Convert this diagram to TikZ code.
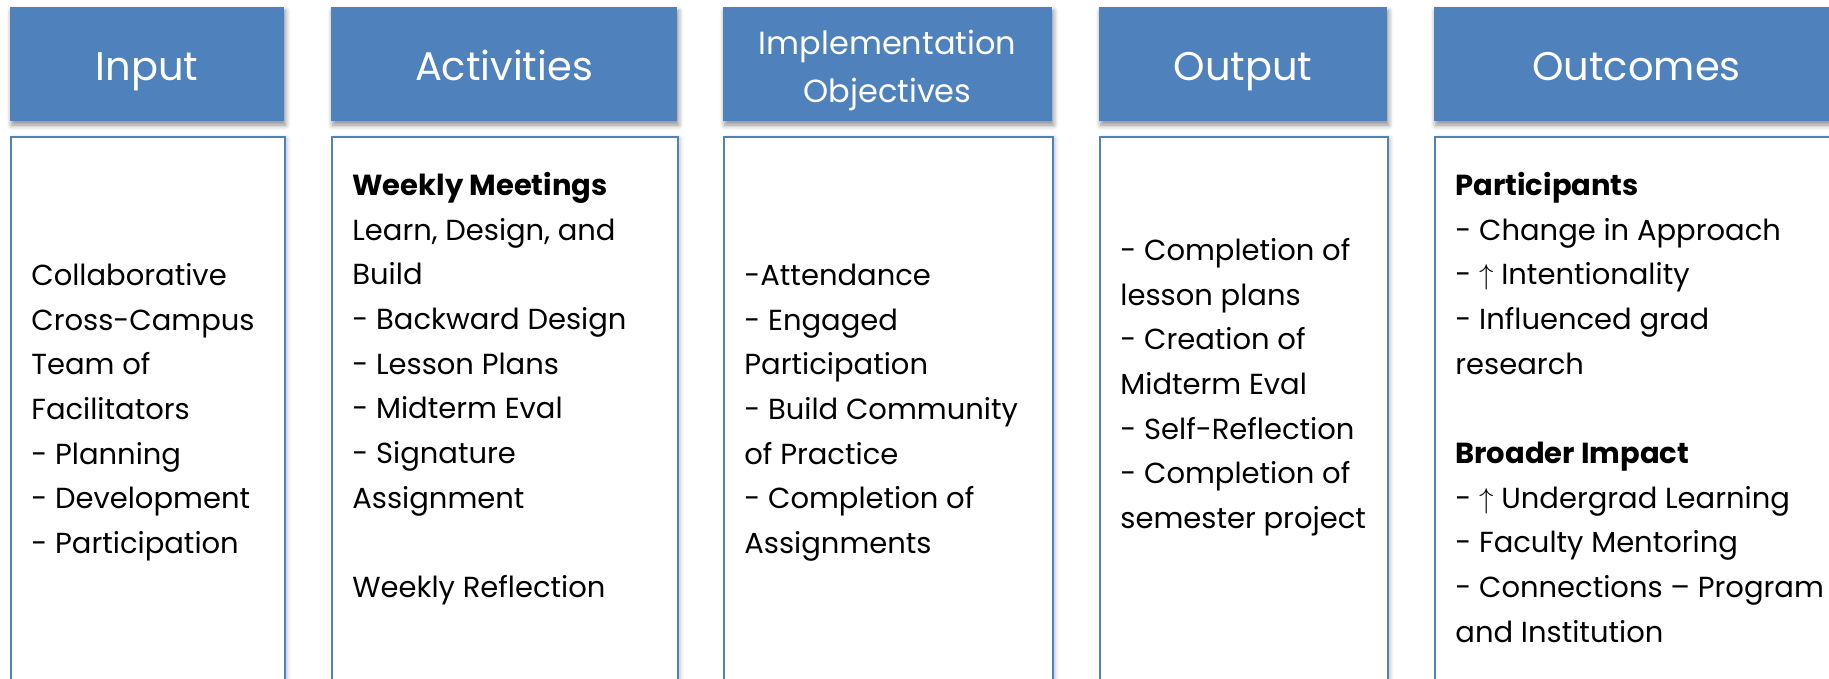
\documentclass[tikz,border=0pt]{standalone}
\usepackage{fontspec}
\setmainfont{Poppins}
\usetikzlibrary{shadows.blur}
\definecolor{headBlue}{RGB}{79,129,189}

\tikzset{
  head/.style={fill=headBlue, text=white, minimum height=57pt, inner sep=0pt,
    align=center, font=\fontsize{20pt}{24pt}\selectfont,
    text height=17pt, text depth=0pt,
    blur shadow={shadow xshift=0.8pt, shadow yshift=-2pt,
      shadow blur radius=2.5pt, shadow opacity=45}},
  headtext/.style={text=white, inner sep=0pt, align=center,
    font=\fontsize{16pt}{24pt}\selectfont},
  body/.style={draw=headBlue, line width=1pt, fill=white, inner sep=0pt,
    anchor=north west, minimum height=300pt,
    blur shadow={shadow xshift=1pt, shadow yshift=-0.5pt,
      shadow blur radius=2pt, shadow opacity=25}},
  entry/.style={anchor=north west, inner sep=0pt, align=left,
    font=\fontsize{14.5pt}{22.35pt}\selectfont}
}

\begin{document}
\begin{tikzpicture}[x=0.5pt, y=-0.5pt]
  \useasboundingbox (0,0) rectangle (1829,679);
  \clip (0,0) rectangle (1829,679);

  % headers
  \node[head, minimum width=137pt] (inputHead) at (147,64) {Input};
  \node[head, minimum width=173pt] (actHead) at (504,64) {Activities};
  \node[head, minimum width=164.5pt] (implHead) at (887.5,64) {};
  \node[headtext] (implTitle) at (887.5,70) {Implementation\\Objectives};
  \node[head, minimum width=144pt] (outHead) at (1243,64) {Output};
  \node[head, minimum width=202.5pt] (outcHead) at (1636.5,64) {Outcomes};

  % boxes under the headers
  \node[body, minimum width=137pt] (inputBody) at (10,136) {};
  \node[body, minimum width=173pt] (actBody) at (331,136) {};
  \node[body, minimum width=164.5pt] (implBody) at (723,136) {};
  \node[body, minimum width=144pt] (outBody) at (1099,136) {};
  \node[body, minimum width=202.5pt] (outcBody) at (1434,136) {};

  % column text
  \node[entry] (inputText) at (31,253.7) {\strut Collaborative\\Cross-Campus\\Team of\\Facilitators\\- Planning\\- Development\\- Participation};
  \node[entry] (actText) at (352,163.7) {\strut\textbf{Weekly Meetings}\\Learn, Design, and\\Build\\- Backward Design\\- Lesson Plans\\- Midterm Eval\\- Signature\\Assignment\\[22.35pt]Weekly Reflection};
  \node[entry] (implText) at (744,253.7) {\strut -Attendance\\- Engaged\\Participation\\- Build Community\\of Practice\\- Completion of\\Assignments};
  \node[entry] (outText) at (1120,228.7) {\strut - Completion of\\lesson plans\\- Creation of\\Midterm Eval\\- Self-Reflection\\- Completion of\\semester project};
  \node[entry] (outcText) at (1455,163.7) {\strut\textbf{Participants}\\- Change in Approach\\- $\uparrow$ Intentionality\\- Influenced grad\\research\\[22.35pt]\textbf{Broader Impact}\\- $\uparrow$ Undergrad Learning\\- Faculty Mentoring\\- Connections – Program\\and Institution};
\end{tikzpicture}
\end{document}
